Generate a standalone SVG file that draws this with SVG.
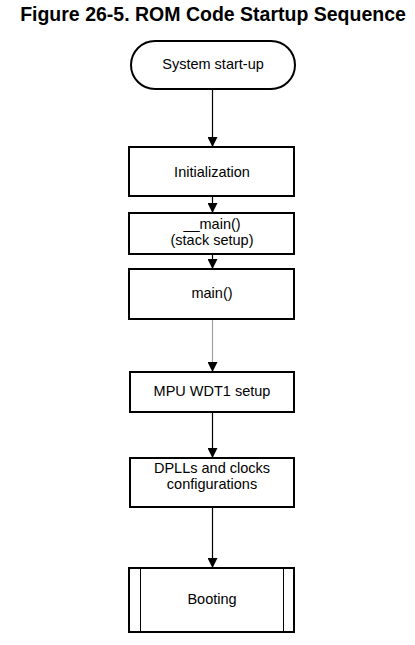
<svg xmlns="http://www.w3.org/2000/svg" width="415" height="645" viewBox="0 0 415 645">
<style>
.box{fill:#fff;stroke:#000;stroke-width:2}
.t{font-family:"Liberation Sans",Arial,sans-serif;font-size:14.5px;fill:#000;text-anchor:middle}
.title{font-family:"Liberation Sans",Arial,sans-serif;font-size:19.5px;font-weight:bold;fill:#000;text-anchor:middle}
.c{stroke:#000;stroke-width:1.2;fill:none}
.c.gray{stroke:#a0a0a0}
</style>
<defs>
<marker id="a" markerUnits="userSpaceOnUse" markerWidth="10" markerHeight="10" viewBox="0 0 10 10" refX="10" refY="5" orient="auto">
<path d="M0,0 L10,5 L0,10 Z" fill="#000"/>
</marker>
</defs>
<rect width="415" height="645" fill="#fff"/>
<text class="title" x="213" y="21">Figure 26-5. ROM Code Startup Sequence</text>
<g id="connectors">
<line class="c" x1="212.5" y1="89" x2="212.5" y2="147" marker-end="url(#a)"/>
<line class="c" x1="212.5" y1="196" x2="212.5" y2="213" marker-end="url(#a)"/>
<line class="c" x1="212.5" y1="254" x2="212.5" y2="269" marker-end="url(#a)"/>
<line class="c gray" x1="212.5" y1="319" x2="212.5" y2="372" marker-end="url(#a)"/>
<line class="c" x1="212.5" y1="412" x2="212.5" y2="458" marker-end="url(#a)"/>
<line class="c" x1="212.5" y1="507" x2="212.5" y2="568" marker-end="url(#a)"/>
</g>
<g id="start">
<rect class="box" x="131" y="41" width="164" height="48" rx="24" ry="24"/>
<text class="t" x="213" y="69">System start-up</text>
</g>
<g id="init">
<rect class="box" x="129" y="147" width="165" height="49"/>
<text class="t" x="212" y="177">Initialization</text>
</g>
<g id="main_stack">
<rect class="box" x="129" y="213" width="165" height="41"/>
<text class="t" x="212" y="229">__main()</text>
<text class="t" x="212" y="245">(stack setup)</text>
</g>
<g id="main">
<rect class="box" x="129" y="269" width="165" height="50"/>
<text class="t" x="212" y="298">main()</text>
</g>
<g id="wdt">
<rect class="box" x="130" y="372" width="164" height="40"/>
<text class="t" x="212" y="396">MPU WDT1 setup</text>
</g>
<g id="dpll">
<rect class="box" x="130" y="458" width="164" height="49"/>
<text class="t" x="212" y="473">DPLLs and clocks</text>
<text class="t" x="212" y="489">configurations</text>
</g>
<g id="booting">
<rect class="box" x="129" y="568" width="165" height="64"/>
<line x1="140.5" y1="568" x2="140.5" y2="632" stroke="#000" stroke-width="1"/>
<line x1="283.5" y1="568" x2="283.5" y2="632" stroke="#000" stroke-width="1"/>
<text class="t" x="212" y="604">Booting</text>
</g>
</svg>
